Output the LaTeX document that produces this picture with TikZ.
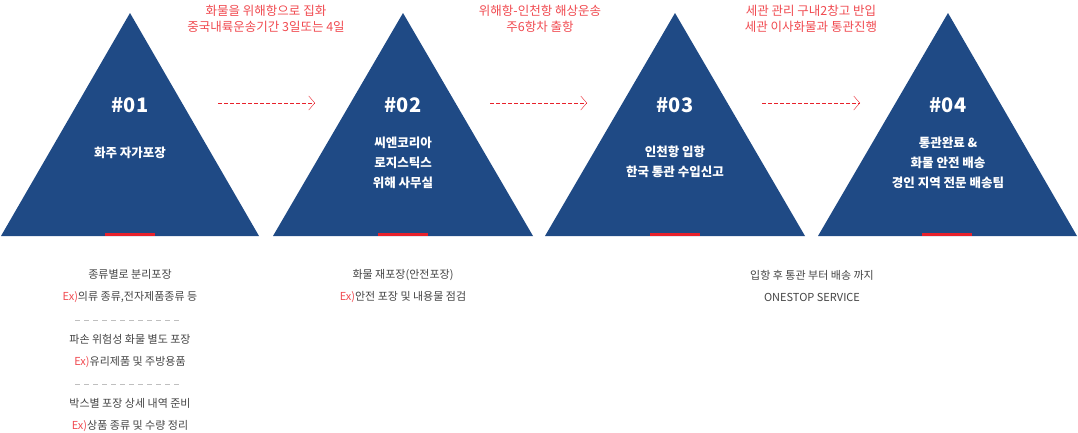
\documentclass[tikz,border=0pt]{standalone}
\usepackage{fontspec}
\setmainfont{Noto Sans CJK KR}
\usetikzlibrary{positioning}
\usetikzlibrary{arrows.meta}
\definecolor{navy}{HTML}{1F4A85}
\definecolor{redbar}{HTML}{E8212B}
\definecolor{redtxt}{HTML}{F04A50}
\definecolor{greytxt}{HTML}{444444}

\begin{document}
\begin{tikzpicture}[x=1pt,y=-1pt]
\tikzset{tri/.style={fill=navy},
  stepnum/.style={text=white,font=\bfseries\fontsize{20}{22}\selectfont},
  steptext/.style={text=white,align=center,font=\bfseries\fontsize{12.5}{20}\selectfont},
  note/.style={text=redtxt,align=center,font=\fontsize{12.5}{16}\selectfont},
  desc/.style={text=greytxt,align=center,font=\fontsize{11}{22}\selectfont},
  flow/.style={draw=redbar,dashed,dash pattern=on 4pt off 2pt,-{Straight Barb[length=6pt,width=14pt]}}}

\useasboundingbox (0,0) rectangle (1078,432);

% triangles
\fill[tri] (1,236) -- (130,13) -- (259,236) -- cycle;
\fill[tri] (273,236) -- (403,13) -- (533,236) -- cycle;
\fill[tri] (545,236) -- (675,13) -- (805,236) -- cycle;
\fill[tri] (818,236) -- (948,13) -- (1077,236) -- cycle;
\fill[redbar] (105,233) rectangle (155,236);
\fill[redbar] (378,233) rectangle (428,236);
\fill[redbar] (650,233) rectangle (700,236);
\fill[redbar] (922,233) rectangle (972,236);

\node[stepnum] (numA) at (130,105) {\#01};
\node[stepnum] (numB) at (403,105) {\#02};
\node[stepnum] (numC) at (675,105) {\#03};
\node[stepnum] (numD) at (948,105) {\#04};

\node[steptext] (txtA) at (130,153) {화주 자가포장};
\node[steptext] (txtB) at (403,163) {씨엔코리아\\로지스틱스\\위해 사무실};
\node[steptext] (txtC) at (675,162) {인천항 입항\\한국 통관 수입신고};
\node[steptext] (txtD) at (948,163) {통관완료 \&\\화물 안전 배송\\경인 지역 전문 배송팀};

% arrows
\coordinate (aS) at (218,103); \coordinate (aE) at (315,103);
\coordinate (bS) at (490,103); \coordinate (bE) at (587,103);
\coordinate (cS) at (762,103); \coordinate (cE) at (860,103);
\draw[flow] (aS) -- (aE);
\draw[flow] (bS) -- (bE);
\draw[flow] (cS) -- (cE);

\node[note] (noteA) at (266,19) {화물을 위해항으로 집화\\중국내륙운송기간 3일또는 4일};
\node[note] (noteB) at (540,19) {위해항-인천항 해상운송\\주6항차 출항};
\node[note] (noteC) at (811,19) {세관 관리 구내2창고 반입\\세관 이사화물과 통관진행};

% descriptions
\node[desc] (descA1) at (130,286) {종류별로 분리포장\\{\color{redtxt}Ex)}의류 종류,전자제품종류 등};
\node[desc] (descA2) at (130,351) {파손 위험성 화물 별도 포장\\{\color{redtxt}Ex)}유리제품 및 주방용품};
\node[desc] (descA3) at (130,415) {박스별 포장 상세 내역 준비\\{\color{redtxt}Ex)}상품 종류 및 수량 정리};
\coordinate (sepA) at (75,320); \coordinate (sepB) at (180,320);
\coordinate (sepC) at (75,384); \coordinate (sepD) at (180,384);
\draw[gray!50,dash pattern=on 5pt off 4pt] (sepA) -- (sepB);
\draw[gray!50,dash pattern=on 5pt off 4pt] (sepC) -- (sepD);
\node[desc] (descB) at (403,286) {화물 재포장(안전포장)\\{\color{redtxt}Ex)}안전 포장 및 내용물 점검};
\node[desc] (descC) at (812,286) {입항 후 통관 부터 배송 까지\\ONESTOP SERVICE};
\end{tikzpicture}
\end{document}
